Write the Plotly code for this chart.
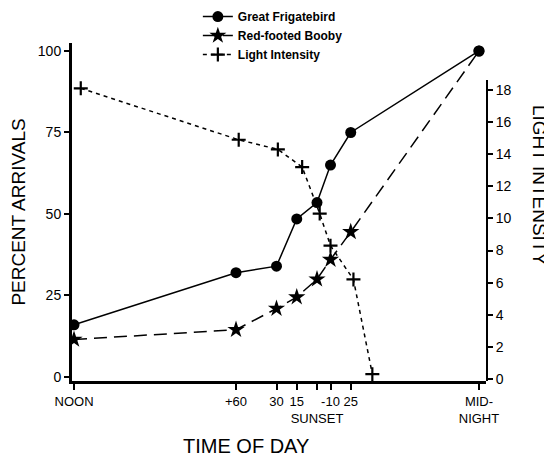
import plotly.graph_objects as go

# Time positions: minutes relative to sunset (noon and midnight placed after a scale break)
time_labels = ["NOON", "+60", "30", "15", "<br>SUNSET", "-10", "25", "MID-<br>NIGHT"]
time_pos = [-180, -60, -30, -15, 0, 10, 25, 120]

# Percent arrivals
frigatebird = [16, 32, 34, 48.5, 53.5, 65, 75, 100]
booby = [11.5, 14.5, 21, 24.5, 30, 36, 44.5, 100]

# Light intensity (own sampling times)
light_pos = [-175, -58, -29, -11, 2, 10, 27, 41]
light = [18.1, 14.9, 14.3, 13.2, 10.3, 8.3, 6.2, 0.3]

left_ticks = [0, 25, 50, 75, 100]
right_ticks = [0, 2, 4, 6, 8, 10, 12, 14, 16, 18]

FONT = "Liberation Sans, Arial, sans-serif"

fig = go.Figure()

fig.add_trace(go.Scatter(
    x=light_pos, y=light, yaxis="y2", name="Light Intensity", legendrank=3,
    mode="lines+markers",
    line=dict(color="black", width=1.5, dash="4px,4px"),
    marker=dict(symbol="cross-thin", size=10, line=dict(color="black", width=2.2)),
))
fig.add_trace(go.Scatter(
    x=time_pos, y=booby, name="Red-footed Booby", legendrank=2,
    mode="lines+markers",
    line=dict(color="black", width=1.5, dash="13px,7px"),
    # last point sits under the frigatebird's midnight circle
    marker=dict(symbol=["star"] * (len(booby) - 1) + ["circle"],
                size=[13] * (len(booby) - 1) + [11],
                color="#000000", opacity=1, line=dict(width=0)),
))
fig.add_trace(go.Scatter(
    x=time_pos, y=frigatebird, name="Great Frigatebird", legendrank=1,
    mode="lines+markers",
    line=dict(color="black", width=1.5),
    marker=dict(symbol="circle", size=11, color="black"),
))

fig.update_layout(
    width=544, height=452,
    margin=dict(l=64, r=66, t=35, b=79, autoexpand=False),
    paper_bgcolor="white", plot_bgcolor="rgba(0,0,0,0)",
    showlegend=True,
    legend=dict(x=0.304, y=1.121, xanchor="left", yanchor="top",
                bgcolor="rgba(0,0,0,0)",
                font=dict(family=FONT, size=12, color="black", weight="bold"),
                tracegroupgap=0),
    xaxis=dict(
        range=[-181.5, 125.2], tickmode="array", tickvals=time_pos, ticktext=time_labels,
        tickangle=0,
        showgrid=False, zeroline=False, showline=True, linecolor="black", linewidth=3,
        ticks="outside", ticklen=6, tickwidth=2, tickcolor="black",
        tickfont=dict(family=FONT, size=13, color="black"),
    ),
    yaxis=dict(
        range=[-1.23, 102.45], tickmode="array", tickvals=left_ticks,
        showgrid=False, zeroline=False, showline=True, linecolor="black", linewidth=3,
        ticks="outside", ticklen=5, tickwidth=2, tickcolor="black",
        tickfont=dict(family=FONT, size=14, color="black"),
        title=dict(text="PERCENT ARRIVALS", font=dict(family=FONT, size=19, color="black"), standoff=10),
    ),
    yaxis2=dict(
        domain=[0, 0.8905], anchor="x", side="right",
        range=[-0.125, 18.62], tickmode="array", tickvals=right_ticks,
        showgrid=False, zeroline=False, showline=True, linecolor="black", linewidth=2,
        ticks="outside", ticklen=5, tickwidth=2, tickcolor="black",
        tickfont=dict(family=FONT, size=14, color="black"),
    ),
    annotations=[
        dict(text="TIME OF DAY", xref="paper", yref="paper", x=(246 - 72) / 414, y=-(446 - 381) / 338,
             xanchor="center", yanchor="middle", showarrow=False,
             font=dict(family=FONT, size=20, color="black")),
        dict(text="LIGHT INTENSITY", xref="paper", yref="paper", x=(540 - 72) / 414, y=(381 - 185) / 338,
             xanchor="center", yanchor="middle", showarrow=False, textangle=90,
             font=dict(family=FONT, size=19, color="black")),
    ],
)

fig.write_html("out.html")
